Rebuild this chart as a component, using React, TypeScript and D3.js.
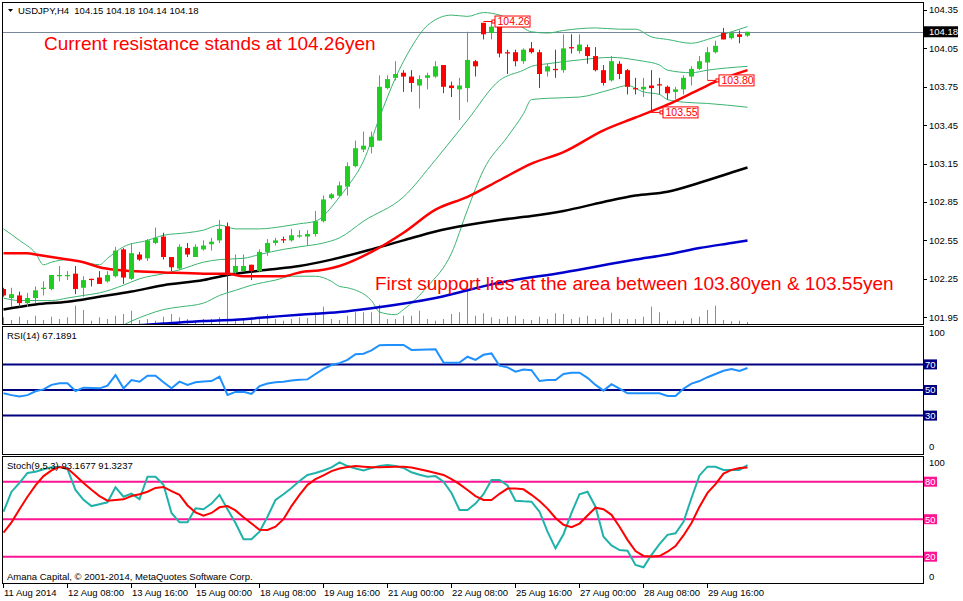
import React from 'react';
import * as d3 from 'd3';

// ---------- DATA ----------
const openP = [102.17,102.10,102.12,102.06,102.10,102.17,102.17,102.27,102.27,102.29,
102.18,102.25,102.26,102.23,102.27,102.48,102.25,102.44,102.41,102.53,
102.58,102.42,102.33,102.49,102.42,102.48,102.52,102.55,102.66,102.30,
102.31,102.36,102.31,102.46,102.53,102.56,102.55,102.58,102.58,102.60,
102.70,102.88,102.90,102.97,103.13,103.26,103.28,103.33,103.74,103.82,
103.86,103.83,103.76,103.82,103.83,103.92,103.76,103.73,103.74,103.95,
104.25,104.17,104.22,104.02,104.02,103.95,104.05,104.02,103.87,103.89,
103.88,104.06,104.03,104.06,103.99,103.88,103.80,103.93,103.88,103.74,
103.73,103.76,103.77,103.75,103.71,103.73,103.83,103.89,103.94,104.02,
104.17,104.13,104.16,104.15];
const highP = [102.18,102.18,102.15,102.14,102.19,102.23,102.28,102.35,102.31,102.35,
102.27,102.25,102.31,102.31,102.50,102.49,102.53,102.46,102.56,102.65,
102.61,102.42,102.52,102.53,102.52,102.55,102.57,102.71,102.69,102.44,
102.44,102.36,102.48,102.56,102.57,102.58,102.64,102.63,102.63,102.78,
102.90,102.92,103.01,103.16,103.33,103.40,103.40,103.84,103.84,103.95,
103.88,103.88,103.84,103.86,103.95,103.92,103.79,103.82,104.18,103.96,
104.25,104.26,104.22,104.04,104.04,104.05,104.10,104.04,103.93,104.04,
104.16,104.16,104.16,104.08,104.06,103.92,103.99,103.95,103.89,103.82,
103.82,103.88,103.82,103.76,103.75,103.84,103.91,103.99,104.06,104.11,
104.21,104.17,104.19,104.18];
const lowP = [102.11,102.03,102.03,102.03,102.06,102.12,102.16,102.23,102.24,102.13,
102.11,102.19,102.21,102.22,102.26,102.21,102.24,102.39,102.39,102.52,
102.40,102.31,102.32,102.42,102.42,102.47,102.47,102.53,102.15,102.29,
102.31,102.24,102.30,102.43,102.51,102.53,102.54,102.57,102.51,102.58,
102.69,102.87,102.89,102.90,103.12,103.24,103.23,103.33,103.73,103.80,
103.71,103.71,103.58,103.73,103.82,103.70,103.67,103.49,103.63,103.83,
104.12,104.12,103.98,103.85,103.91,103.93,104.01,103.74,103.83,103.82,
103.86,104.01,104.01,103.93,103.87,103.76,103.79,103.81,103.69,103.69,
103.67,103.55,103.69,103.65,103.65,103.69,103.76,103.88,103.80,104.01,
104.12,104.12,104.09,104.14];
const closeP = [102.12,102.13,102.06,102.10,102.16,102.18,102.28,102.28,102.28,102.17,
102.24,102.24,102.21,102.28,102.47,102.26,102.45,102.40,102.55,102.57,
102.42,102.34,102.50,102.44,102.50,102.51,102.54,102.64,102.28,102.35,
102.35,102.31,102.46,102.53,102.55,102.55,102.59,102.59,102.60,102.70,
102.87,102.91,102.98,103.13,103.27,103.29,103.36,103.75,103.81,103.85,
103.83,103.78,103.81,103.84,103.91,103.75,103.74,103.76,103.96,103.91,
104.16,104.22,104.01,104.01,103.95,104.04,104.02,103.85,103.91,103.88,
104.05,104.05,104.08,103.99,103.88,103.78,103.95,103.85,103.75,103.73,
103.75,103.74,103.76,103.70,103.73,103.82,103.89,103.95,104.02,104.07,
104.12,104.17,104.14,104.18];
const volume = [670,400,730,400,830,400,730,500,670,1830,
1400,330,670,500,830,1000,1330,400,500,330,
730,1000,670,500,330,500,500,670,3300,330,
400,670,670,1000,500,330,500,670,600,1170,
1730,500,400,830,1170,1170,1170,1930,500,500,
830,830,1330,500,330,500,1000,1170,3670,830,
1070,670,500,730,830,500,400,730,500,1070,
1000,500,670,830,500,670,1130,500,500,500,
730,1730,1170,330,330,330,570,730,1400,1830,
400,270,330,200];

// Bollinger bands (bar index, price)
const bbUpper = [[0,102.64],[2,102.55],[4,102.45],[5,102.36],[6,102.38],[8,102.40],[10,102.38],[12,102.36],[13,102.41],[15,102.50],[18,102.55],[20,102.59],[23,102.61],[25,102.63],[27,102.67],[29,102.64],[32,102.64],[35,102.66],[37,102.68],[39,102.70],[41,102.81],[42,102.89],[43,102.97],[45,103.17],[47,103.51],[49,103.82],[51,104.06],[53,104.23],[56,104.31],[58,104.30],[60,104.33],[62,104.31],[64,104.25],[66,104.18],[68,104.17],[70,104.19],[74,104.21],[77,104.20],[79,104.20],[81,104.14],[83,104.12],[86,104.09],[88,104.12],[90,104.16],[93,104.22]];
const bbMiddle = [[0,102.10],[2,102.08],[4,102.08],[6,102.08],[8,102.10],[10,102.12],[12,102.14],[15,102.20],[17,102.25],[20,102.29],[22,102.32],[25,102.38],[27,102.40],[30,102.41],[32,102.44],[35,102.48],[37,102.50],[40,102.53],[42,102.57],[45,102.70],[50,102.89],[54,103.18],[58,103.49],[62,103.80],[65,103.88],[66,103.91],[68,103.93],[72,103.96],[76,103.98],[79,103.96],[80,103.95],[82,103.92],[83,103.88],[86,103.86],[88,103.88],[93,103.91]];
const bbLower = [[13,101.82],[16,101.92],[18,101.97],[20,102.01],[22,102.03],[25,102.06],[27,102.12],[29,102.16],[31,102.20],[34,102.24],[36,102.27],[39,102.27],[41,102.23],[42,102.19],[43,102.18],[46,102.08],[47,101.99],[49,101.97],[50,102.01],[53,102.19],[56,102.45],[58,102.79],[60,103.10],[63,103.36],[65,103.54],[66,103.65],[68,103.66],[72,103.67],[76,103.73],[78,103.76],[80,103.71],[82,103.69],[83,103.65],[85,103.63],[88,103.62],[93,103.59]];
const maRed = [[0,102.45],[3,102.45],[4,102.44],[6,102.42],[8,102.40],[10,102.38],[12,102.34],[14,102.32],[16,102.31],[20,102.30],[25,102.29],[28,102.29],[30,102.27],[33,102.27],[35,102.27],[37,102.30],[40,102.32],[42,102.35],[46,102.46],[50,102.61],[54,102.79],[58,102.89],[62,103.02],[66,103.15],[70,103.24],[75,103.41],[79,103.51],[83,103.61],[87,103.73],[89,103.79],[93,103.88]];
const maBlack = [[0,102.01],[4,102.05],[8,102.07],[12,102.11],[16,102.15],[20,102.20],[25,102.24],[28,102.28],[33,102.32],[37,102.35],[41,102.40],[46,102.48],[50,102.55],[54,102.62],[58,102.67],[62,102.71],[66,102.74],[70,102.78],[75,102.85],[79,102.90],[83,102.93],[87,103.00],[91,103.08],[93,103.12]];
const maBlue = [[15,101.88],[20,101.90],[25,101.92],[29,101.93],[33,101.95],[37,101.97],[42,101.99],[46,102.02],[54,102.10],[62,102.22],[70,102.30],[79,102.40],[83,102.44],[87,102.49],[91,102.53],[93,102.55]];

const rsi = [47.4,46,45,46,49,50.5,54,55.2,55.2,49.2,
51.8,51.5,51.3,53.4,61.7,51.3,57.8,56.5,61.2,61.2,
56,51.3,56.5,54,56,56.7,57,60.4,46.1,48.5,
48.7,47,53,55,56,56.5,57.5,58,58.3,62.5,
66.5,69.5,71,73.5,77.9,78.4,81,85,85.2,85.2,
85.2,81.3,81.5,81.7,81.8,71.5,71.3,71.5,76,73.5,
77.5,78.6,69,67.7,64.3,66,65.5,57,57.8,57.8,
62.5,63.5,63.5,59.5,54,49.5,54.5,51,47.4,47.4,
47.4,47.4,47.4,45.3,45.3,51,55,57,60,62.5,
65,66.3,64.8,67.2];
const stochK = [56,72,79,87,88,90,91.5,92,90,73.4,
65.5,60.5,62,63.5,75.5,68,70.5,66,84,84,
77.5,55,47.5,47.5,58.7,58,62.5,69.5,58,47,
34,34,40,52,65.4,70,75,80.5,85.4,87,
89,91.5,95.5,92.5,90.5,89,91,92.5,93.4,92.5,
91,87.5,85.5,84,84.5,80,71,57.4,57.4,62.5,
70,81.4,81.4,77,64.8,64.3,64,56,40,26.7,
38,55,70,72,60,36,29,25.3,24.8,13.4,
11.5,21.5,30,37.5,38.7,48,67,85,92,92,
89.4,89.4,89.4,93.2];
const stochD = [39.2,47.5,58,68,77,84.5,89,91.8,90.5,85,
79,73.5,68.5,64.8,65.3,65.9,68.5,70,72,75,
75.8,72.5,69.5,61,55.5,52.8,55,59.5,60.5,57,
51.5,46.5,41.5,41.4,44,50,60.5,69.5,77.5,82,
85,88.5,90.5,91.8,92.5,92,91.6,91.6,91.8,92,
92,91.4,90,88.5,87,85.4,82,78,73.4,68.5,
65.4,65.4,70.3,74.5,74.5,73.9,69.5,64.5,58.5,51,
45.5,43.6,46.5,53,59.2,58,53.5,44,33.5,24.5,
20.6,20.2,20.5,24,28.5,37,47,60,71,78,
86.5,89.5,91,91.3];

const priceTicks = [104.35,104.05,103.75,103.45,103.15,102.85,102.55,102.25,101.95];
const rsiLevels = [70,50,30];
const stochLevels = [80,50,20];
const timeLabels = ['11 Aug 2014','12 Aug 08:00','13 Aug 16:00','15 Aug 00:00','18 Aug 08:00','19 Aug 16:00','21 Aug 00:00','22 Aug 08:00','25 Aug 16:00','27 Aug 00:00','28 Aug 08:00','29 Aug 16:00'];
const priceLabels = [{bar:60,price:104.26,text:'104.26'},{bar:88,price:103.80,text:'103.80'},{bar:81,price:103.55,text:'103.55'}];
const lastPrice = 104.18;

// ---------- STYLE ----------
const GREEN = '#22CC22';
const RED = '#FF0000';
const FONT = "'Liberation Sans', Arial, sans-serif";

export default function App() {
  React.useEffect(() => { document.body.style.margin = '0'; }, []);

  const xs = d3.scaleLinear().domain([0, 93]).range([3, 747]);
  const yP = d3.scaleLinear().domain([101.95, 104.35]).range([317.2, 10]);
  const yR = d3.scaleLinear().domain([0, 100]).range([454, 326]);
  const yS = d3.scaleLinear().domain([0, 100]).range([581.7, 456.7]);
  const yV = d3.scaleLinear().domain([0, 4000]).range([324, 284]);

  const pairLine = d3.line<number[]>().x(d => xs(d[0]) + 0.5).y(d => yP(d[1])).curve(d3.curveMonotoneX);
  const rsiLine = d3.line<number>().x((_, i) => xs(i) + 0.5).y(d => yR(d));
  const stLine = d3.line<number>().x((_, i) => xs(i) + 0.5).y(d => yS(d));

  const L = 2.5, R = 923.5;

  return (
    <svg width={963} height={601} style={{ position: 'absolute', left: 0, top: 0, background: '#fff' }} fontFamily={FONT}>
      <defs>
        <clipPath id="mainClip"><rect x={3} y={3} width={920} height={321} /></clipPath>
        <clipPath id="rsiClip"><rect x={3} y={327} width={920} height={127} /></clipPath>
        <clipPath id="stClip"><rect x={3} y={457} width={920} height={126} /></clipPath>
      </defs>
      <rect x={0} y={0} width={963} height={601} fill="#fff" />
      {/* panel frames */}
      <rect x={L} y={2.5} width={R - L} height={322} fill="#fff" stroke="#000" />
      <rect x={L} y={326.5} width={R - L} height={128} fill="#fff" stroke="#000" />
      <rect x={L} y={456.5} width={R - L} height={127} fill="#fff" stroke="#000" />

      {/* MAIN PANEL */}
      <g clipPath="url(#mainClip)">
        {/* current price line */}
        <line x1={3} x2={923} y1={Math.round(yP(lastPrice)) + 0.5} y2={Math.round(yP(lastPrice)) + 0.5} stroke="#778899" />
        {/* volumes */}
        {volume.map((v, i) => (
          <line key={'v' + i} x1={xs(i) + 0.5} x2={xs(i) + 0.5} y1={yV(0)} y2={yV(v)} stroke="#32CD32" />
        ))}
        {/* bands */}
        {[bbUpper, bbMiddle, bbLower].map((b, k) => (
          <path key={'bb' + k} d={pairLine(b) || ''} fill="none" stroke="#3CB371" strokeWidth={1} />
        ))}
        {/* moving averages */}
        <path d={pairLine(maBlue) || ''} fill="none" stroke="#0000CD" strokeWidth={2.5} />
        <path d={pairLine(maBlack) || ''} fill="none" stroke="#000" strokeWidth={2.5} />
        <path d={pairLine(maRed) || ''} fill="none" stroke={RED} strokeWidth={2.5} />
        {/* candles */}
        {openP.map((o, i) => {
          const c = closeP[i];
          const col = c >= o ? GREEN : RED;
          const x = xs(i);
          const top = yP(Math.max(o, c));
          const bot = yP(Math.min(o, c));
          return (
            <g key={'c' + i}>
              <line x1={x + 0.5} x2={x + 0.5} y1={yP(highP[i])} y2={yP(lowP[i])} stroke={col} />
              <rect x={x - 2} y={top} width={5} height={Math.max(1, bot - top)} fill={col} />
            </g>
          );
        })}
        {/* price labels */}
        {priceLabels.map((p, k) => {
          const x0 = xs(p.bar) + 0.5;
          const y = yP(p.price);
          const bx = x0 + 11;
          return (
            <g key={'pl' + k}>
              <line x1={x0} x2={bx} y1={y} y2={y} stroke={RED} />
              <rect x={bx - 2.5} y={y - 1.5} width={3} height={3} fill="#fff" stroke={RED} />
              <rect x={bx + 0.5} y={y - 5.5} width={35} height={11} fill="#fff" stroke={RED} />
              <text x={bx + 3} y={y} dy="0.36em" fontSize={10.5} fill={RED}>{p.text}</text>
            </g>
          );
        })}
        {/* annotations */}
        <text x={44} y={50} fontSize={19} fill={RED}>Current resistance stands at 104.26yen</text>
        <text x={375} y={290} fontSize={19} fill={RED}>First support lies at the area between 103.80yen &amp; 103.55yen</text>
      </g>
      {/* title */}
      <path d="M8,9 L13,9 L10.5,12 Z" fill="#000" />
      <text x={18} y={11} dy="0.36em" fontSize={9.5} fill="#000" style={{ whiteSpace: 'pre' }}>{'USDJPY,H4  104.15 104.18 104.14 104.18'}</text>

      {/* price axis */}
      {priceTicks.map((t, k) => (
        <g key={'pt' + k}>
          <line x1={923} x2={927} y1={Math.round(yP(t)) + 0.5} y2={Math.round(yP(t)) + 0.5} stroke="#000" />
          <text x={929} y={yP(t)} dy="0.36em" fontSize={9.5} fill="#000">{t.toFixed(2)}</text>
        </g>
      ))}
      <rect x={924} y={yP(lastPrice) - 5.5} width={34} height={11} fill="#000" />
      <text x={929} y={yP(lastPrice)} dy="0.36em" fontSize={9.5} fill="#fff">{lastPrice.toFixed(2)}</text>

      {/* RSI PANEL */}
      <g clipPath="url(#rsiClip)">
        {rsiLevels.map(l => (
          <line key={'rl' + l} x1={3} x2={923} y1={yR(l)} y2={yR(l)} stroke="#000080" strokeWidth={2} />
        ))}
        <path d={rsiLine(rsi) || ''} fill="none" stroke="#1E90FF" strokeWidth={2} />
      </g>
      <text x={7} y={335.5} dy="0.36em" fontSize={9.5} fill="#000">RSI(14) 67.1891</text>
      <text x={929} y={333} dy="0.36em" fontSize={9.5} fill="#000">100</text>
      <text x={929} y={447} dy="0.36em" fontSize={9.5} fill="#000">0</text>
      {rsiLevels.map(l => (
        <g key={'rb' + l}>
          <rect x={924} y={yR(l) - 5} width={13} height={10} fill="#000080" />
          <text x={925} y={yR(l)} dy="0.36em" fontSize={9.5} fill="#fff">{l}</text>
        </g>
      ))}

      {/* STOCH PANEL */}
      <g clipPath="url(#stClip)">
        {stochLevels.map(l => (
          <line key={'sl' + l} x1={3} x2={923} y1={yS(l)} y2={yS(l)} stroke="#FF1493" strokeWidth={2} />
        ))}
        <path d={stLine(stochK) || ''} fill="none" stroke="#20B2AA" strokeWidth={2} />
        <path d={stLine(stochD) || ''} fill="none" stroke={RED} strokeWidth={2} />
      </g>
      <text x={7} y={465.5} dy="0.36em" fontSize={9.5} fill="#000">Stoch(9,5,3) 93.1677 91.3237</text>
      <text x={7} y={576.5} dy="0.36em" fontSize={9.5} fill="#000">Amana Capital, © 2001-2014, MetaQuotes Software Corp.</text>
      <text x={929} y={463} dy="0.36em" fontSize={9.5} fill="#000">100</text>
      <text x={929} y={577} dy="0.36em" fontSize={9.5} fill="#000">0</text>
      {stochLevels.map(l => (
        <g key={'sb' + l}>
          <rect x={924} y={yS(l) - 5} width={13} height={10} fill="#FF1493" />
          <text x={925} y={yS(l)} dy="0.36em" fontSize={9.5} fill="#fff">{l}</text>
        </g>
      ))}

      {/* time axis */}
      {timeLabels.map((t, k) => {
        const x = xs(k * 8);
        return (
          <g key={'tl' + k}>
            <line x1={x + 0.5} x2={x + 0.5} y1={583.5} y2={588} stroke="#000" />
            <text x={x + 1} y={593} dy="0.36em" fontSize={9.5} fill="#000">{t}</text>
          </g>
        );
      })}
    </svg>
  );
}
